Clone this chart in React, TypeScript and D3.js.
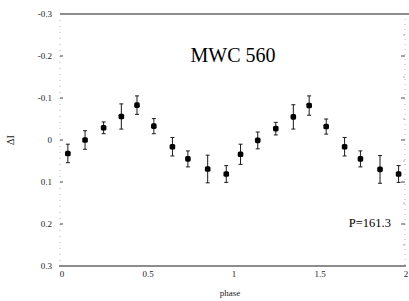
import * as d3 from 'd3'

// phase-folded light curve, both cycles
const phases = [
  0.034, 0.134, 0.242, 0.345, 0.436, 0.534, 0.642, 0.732, 0.847, 0.955,
  1.038, 1.138, 1.243, 1.345, 1.437, 1.536, 1.643, 1.735, 1.849, 1.957,
]
const deltaI = [
  0.032, 0.0, -0.029, -0.056, -0.083, -0.033, 0.016, 0.045, 0.069, 0.081,
  0.034, 0.001, -0.027, -0.055, -0.082, -0.032, 0.016, 0.045, 0.07, 0.081,
]
const errors = [
  0.022, 0.022, 0.014, 0.03, 0.022, 0.018, 0.022, 0.019, 0.033, 0.02,
  0.024, 0.02, 0.015, 0.029, 0.023, 0.018, 0.022, 0.019, 0.033, 0.02,
]
const yTicks = [-0.3, -0.2, -0.1, 0, 0.1, 0.2, 0.3]
const xTicks = [0, 0.5, 1, 1.5, 2]
const title = 'MWC 560'
const periodLabel = 'P=161.3'

const W = 409
const H = 301
const font = '"Liberation Serif", "DejaVu Serif", serif'
const ink = '#1a1a1a'

export default function App() {
  const x = d3.scaleLinear().domain([0, 2]).range([62, 406])
  const y = d3.scaleLinear().domain([-0.3, 0.3]).range([14, 266])

  const fmt = (v: number) => (v === 0 ? '0' : d3.format('.1f')(v).replace('−', '-'))
  const points = phases.map((p, i) => ({ p, v: deltaI[i], e: errors[i] }))
  const minorY = d3.range(-0.25, 0.3, 0.1)

  return (
    <svg
      width={W}
      height={H}
      style={{ position: 'absolute', left: 0, top: 0, background: '#fff' }}
      fontFamily={font}
    >
      {/* frame */}
      <line x1={60} x2={409} y1={y(-0.3)} y2={y(-0.3)} stroke={ink} strokeWidth={1.2} />
      <line x1={59} x2={406} y1={y(0.3)} y2={y(0.3)} stroke={ink} strokeWidth={1.2} />
      <line x1={60} x2={60} y1={y(-0.3)} y2={y(0.3)} stroke="#999" strokeWidth={0.7} strokeDasharray="1,5" />
      <line x1={405} x2={405} y1={y(-0.3)} y2={y(0.3)} stroke="#999" strokeWidth={0.7} strokeDasharray="1,4" />

      {/* y ticks and labels */}
      {yTicks.map(t => (
        <g key={t}>
          <text x={52} y={y(t) + 3} textAnchor="end" fontSize={9} fill={ink}>
            {fmt(t)}
          </text>
          {Math.abs(t) < 0.3 && (
            <>
              <line x1={60} x2={63} y1={y(t)} y2={y(t)} stroke={ink} strokeWidth={0.8} />
              <line x1={401} x2={405} y1={y(t)} y2={y(t)} stroke={ink} strokeWidth={0.8} />
            </>
          )}
        </g>
      ))}
      {minorY.map(t => (
        <line key={t} x1={403} x2={405} y1={y(t)} y2={y(t)} stroke="#777" strokeWidth={0.6} />
      ))}

      {/* x ticks and labels */}
      {xTicks.map(t => (
        <text key={t} x={x(t)} y={277} textAnchor="middle" fontSize={9} fill={ink}>
          {t === 0 || t === 1 || t === 2 ? String(t) : d3.format('.1f')(t)}
        </text>
      ))}

      <text x={230} y={296} textAnchor="middle" fontSize={9} fill={ink}>
        phase
      </text>
      <text
        transform={`translate(14,${y(0)}) rotate(-90)`}
        textAnchor="middle"
        fontSize={10}
        fill={ink}
      >
        ΔI
      </text>

      <text x={233} y={62} textAnchor="middle" fontSize={20} fill="#000">
        {title}
      </text>
      <text x={391} y={227} textAnchor="end" fontSize={12.5} fill="#000">
        {periodLabel}
      </text>

      {/* data with error bars */}
      {points.map((d, i) => (
        <g key={i}>
          <line x1={x(d.p)} x2={x(d.p)} y1={y(d.v - d.e)} y2={y(d.v + d.e)} stroke={ink} strokeWidth={1} />
          <line x1={x(d.p) - 2} x2={x(d.p) + 2} y1={y(d.v - d.e)} y2={y(d.v - d.e)} stroke={ink} strokeWidth={1} />
          <line x1={x(d.p) - 2} x2={x(d.p) + 2} y1={y(d.v + d.e)} y2={y(d.v + d.e)} stroke={ink} strokeWidth={1} />
          <rect
            x={x(d.p) - 2.8}
            y={y(d.v) - 2.8}
            width={5.6}
            height={5.6}
            rx={1.6}
            fill="#000"
          />
        </g>
      ))}
    </svg>
  )
}
